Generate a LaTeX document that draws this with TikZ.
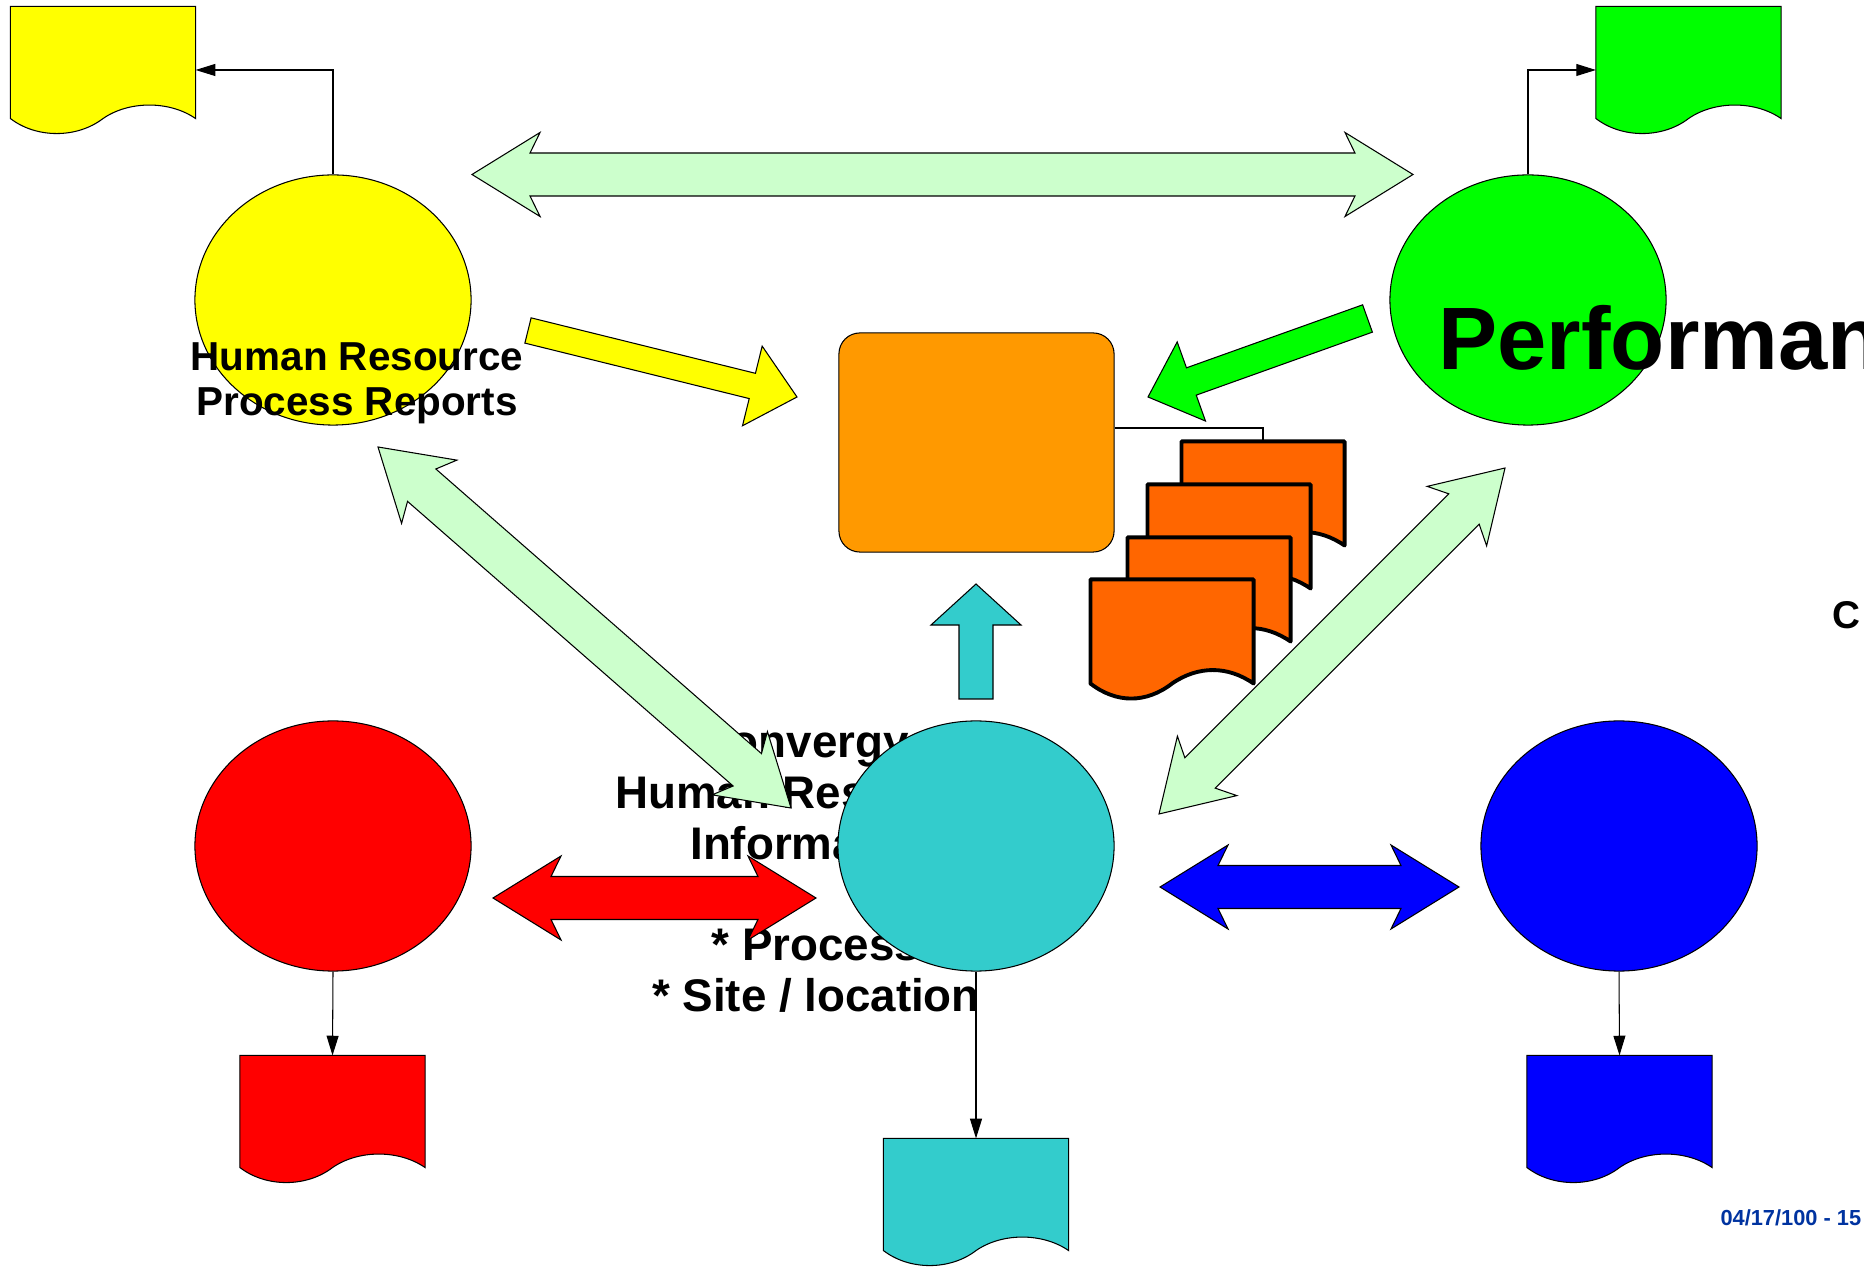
\documentclass[tikz,border=0pt]{standalone}
\usepackage{fontspec}
\setmainfont{Liberation Sans}
\usepackage{tikz}
\usetikzlibrary{arrows.meta,positioning,calc,shapes.geometric}

\definecolor{palegreen}{HTML}{CCFFCC}
\definecolor{hryellow}{HTML}{FFFF00}
\definecolor{pfgreen}{HTML}{00FF00}
\definecolor{hrred}{HTML}{FF0000}
\definecolor{hrblue}{HTML}{0000FF}
\definecolor{hrteal}{HTML}{33CCCC}
\definecolor{boxorange}{HTML}{FF9900}
\definecolor{deeporange}{HTML}{FF6600}
\definecolor{dateblue}{HTML}{0033A0}

% outline of a report sheet filling node #1
\newcommand{\sheet}[1]{(#1.north west) -- (#1.north east) -- ([yshift=0.15cm]#1.south east)
  .. controls +(-26,-18) and +(26,-18) .. ($(#1.south west)!0.5!(#1.south east)+(0,-15)$)
  .. controls +(-26,20) and +(26,20) .. ([yshift=0.15cm]#1.south west) -- cycle}
% block arrow with two heads, tips #1 and #2
\newcommand{\fatdouble}[2]{(#1)
  -- ($(#1)!0.68cm!(#2)!0.42cm!90:(#2)$) -- ($(#1)!0.58cm!(#2)!0.215cm!90:(#2)$)
  -- ($(#2)!0.58cm!(#1)!0.215cm!-90:(#1)$) -- ($(#2)!0.68cm!(#1)!0.42cm!-90:(#1)$)
  -- (#2)
  -- ($(#2)!0.68cm!(#1)!0.42cm!90:(#1)$) -- ($(#2)!0.58cm!(#1)!0.215cm!90:(#1)$)
  -- ($(#1)!0.58cm!(#2)!0.215cm!-90:(#2)$) -- ($(#1)!0.68cm!(#2)!0.42cm!-90:(#2)$) -- cycle}
% block arrow, tail #1, tip #2, half shaft #3, half head #4, head length #5
\newcommand{\fatsingle}[5]{($(#1)!#3!90:(#2)$) -- ($(#2)!#5!(#1)!#3!-90:(#1)$)
  -- ($(#2)!#5!(#1)!#4!-90:(#1)$) -- (#2) -- ($(#2)!#5!(#1)!#4!90:(#1)$)
  -- ($(#2)!#5!(#1)!#3!90:(#1)$) -- ($(#1)!#3!-90:(#2)$) -- cycle}

\begin{document}
\begin{tikzpicture}[x=0.01cm,y=-0.01cm,line width=0.3pt,
 disc/.style={ellipse,draw,inner sep=0pt,minimum width=2.76cm,minimum height=2.5cm},
 sheetbox/.style={inner sep=0pt,minimum width=1.84cm,minimum height=1.26cm},
 stackbox/.style={inner sep=0pt,minimum width=1.62cm,minimum height=1.18cm},
 stacked/.style={draw,fill=deeporange,line width=1.1pt,line join=round},
 block/.style={draw,fill=palegreen},
 feed/.style={-{Triangle[length=5.6pt,width=3.4pt]}},
 lbl/.style={inner sep=0pt,align=center}]
 \useasboundingbox (0,0) rectangle (1864,1268);
 \clip (0,0) rectangle (1864,1268);

 % report sheets
 \node[sheetbox] (ydoc) at (103,70) {};
 \node[sheetbox] (gdoc) at (1688.5,70) {};
 \node[sheetbox] (rdoc) at (332.5,1119) {};
 \node[sheetbox] (cdoc) at (976,1202) {};
 \node[sheetbox] (bdoc) at (1619.5,1119) {};
 \foreach \d/\c in {ydoc/hryellow,gdoc/pfgreen,rdoc/hrred,cdoc/hrteal,bdoc/hrblue}
  \draw[fill=\c] \sheet{\d};

 % upper circles and their labels
 \node[disc,fill=hryellow] (ycirc) at (333,300) {};
 \node[disc,fill=pfgreen] (gcirc) at (1528,300) {};
 \draw[feed] (ycirc.north) |- (ydoc.east);
 \draw[feed] (gcirc.north) |- (gdoc.west);
 \node[lbl,font=\bfseries\fontsize{11.5}{12.7}\selectfont] (hrlabel) at (357,383)
  {Human Resource\\Process Reports};
 \node[lbl,anchor=base west,font=\bfseries\fontsize{25.2}{29}\selectfont] (perflabel)
  at (1438,370) {Performance};

 % lower row
 \node[lbl,font=\bfseries\fontsize{13}{14.4}\selectfont] (hrislabel) at (816,869)
  {Convergys\\Human Resources\\Information\\\mbox{}\\* Process\\* Site / location};
 \node[disc,fill=hrred] (rcirc) at (333,846) {};
 \node[disc,fill=hrteal] (ccirc) at (976,846) {};
 \node[disc,fill=hrblue] (bcirc) at (1619,846) {};
 \draw[feed] (rcirc.south) -- (rdoc.north);
 \draw[feed] (ccirc.south) -- (cdoc.north);
 \draw[feed] (bcirc.south) -- (bdoc.north);

 % central box with its stack of sheets
 \node[draw,fill=boxorange,rounded corners=0.21cm,inner sep=0pt,
  minimum width=2.75cm,minimum height=2.19cm] (obox) at (976.5,442.5) {};
 \node[stackbox] (odoc1) at (1263,501) {};
 \node[stackbox] (odoc2) at (1229,544) {};
 \node[stackbox] (odoc3) at (1209,597) {};
 \node[stackbox] (odoc4) at (1172,639) {};
 \draw[line width=0.6pt] (obox.6.4) -| (odoc1.north);
 \foreach \d in {odoc1,odoc2,odoc3,odoc4}
  \draw[stacked] \sheet{\d};

 % block arrows
 \coordinate (topL) at (472,174.5); \coordinate (topR) at (1413,174.5);
 \coordinate (diaA) at (378,447);   \coordinate (diaB) at (791,808);
 \coordinate (diaC) at (1505,468);  \coordinate (diaD) at (1159,814);
 \coordinate (redL) at (493,898);   \coordinate (redR) at (816,898);
 \coordinate (bluL) at (1160,887);  \coordinate (bluR) at (1459,887);
 \coordinate (yelT) at (528,330.5); \coordinate (yelH) at (797,397);
 \coordinate (grnT) at (1367.5,318.5); \coordinate (grnH) at (1148,397);
 \coordinate (upT) at (976,699);    \coordinate (upH) at (976,584);
 \draw[block] \fatdouble{topL}{topR};
 \draw[block] \fatdouble{diaA}{diaB};
 \draw[block] \fatdouble{diaC}{diaD};
 \draw[block,fill=hrred] \fatdouble{redL}{redR};
 \draw[block,fill=hrblue] \fatdouble{bluL}{bluR};
 \draw[block,fill=hryellow] \fatsingle{yelT}{yelH}{0.13cm}{0.41cm}{0.46cm};
 \draw[block,fill=pfgreen] \fatsingle{grnT}{grnH}{0.145cm}{0.42cm}{0.46cm};
 \draw[block,fill=hrteal] \fatsingle{upT}{upH}{0.17cm}{0.45cm}{0.41cm};

 \node[lbl,anchor=base west,font=\bfseries\fontsize{11}{13}\selectfont] (clabel)
  at (1832,629) {C};
 \node[lbl,anchor=base west,text=dateblue,font=\bfseries\fontsize{6.2}{7}\selectfont]
  (datelabel) at (1720,1225) {04/17/100 - 15};
\end{tikzpicture}
\end{document}
